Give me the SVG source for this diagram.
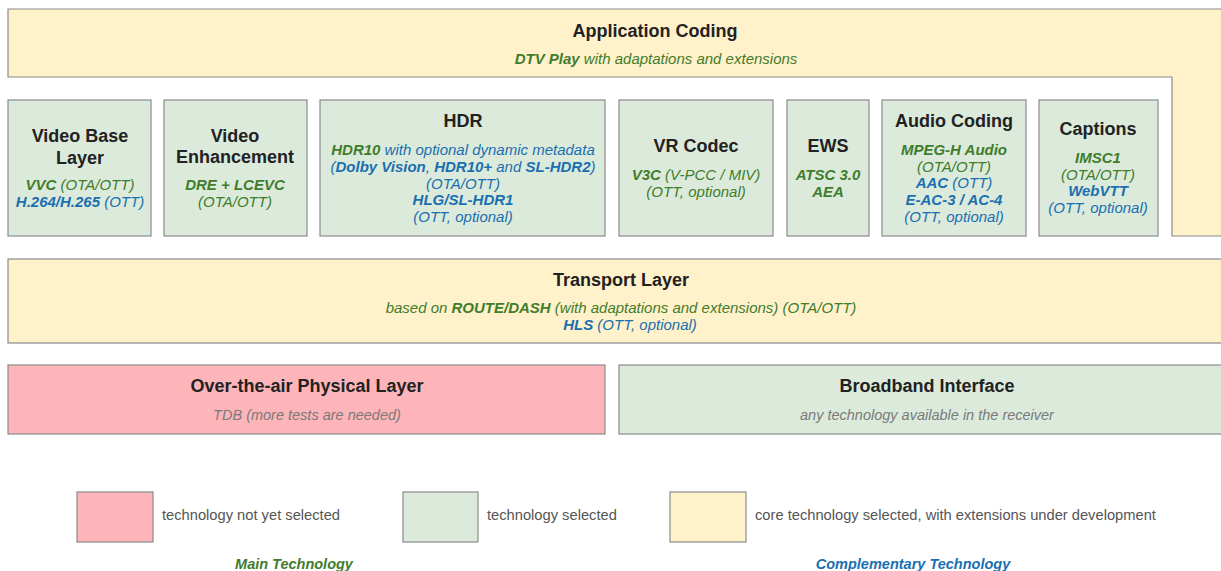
<svg xmlns="http://www.w3.org/2000/svg" width="1221" height="571" viewBox="0 0 1221 571">
<style>
text{font-family:"Liberation Sans",Arial,sans-serif}
.box{stroke:#8a8a8a;stroke-width:1.2}
.y{fill:#fff1ca}
.g{fill:#dceadb}
.r{fill:#fdb5b9}
.t{font-size:18px;font-weight:bold;fill:#222;text-anchor:middle}
.s{font-size:15px;font-style:italic;text-anchor:middle}
.gr{fill:#3f7d2c}
.bl{fill:#1a6fb0}
.b{font-weight:bold}
.gy{font-size:14.5px;font-style:italic;fill:#7a7a7a;text-anchor:middle}
.lg{font-size:14.7px;fill:#555}
.lt{font-size:14.5px;font-style:italic;font-weight:bold;text-anchor:middle}
</style>
<rect width="1221" height="571" fill="#fff"/>
<g id="application-coding">
<path class="box y" d="M8,9 H1222 V236 H1172 V77 H8 Z"/>
<text class="t" x="655" y="37">Application Coding</text>
<text class="s gr" x="656" y="64"><tspan class="b">DTV Play</tspan> with adaptations and extensions</text>
</g>
<g id="video-base-layer">
<rect class="box g" x="8" y="100" width="143" height="136"/>
<text class="t" x="80" y="142">Video Base</text>
<text class="t" x="80" y="164">Layer</text>
<text class="s gr" x="80" y="190"><tspan class="b">VVC</tspan> (OTA/OTT)</text>
<text class="s bl" x="80" y="207"><tspan class="b">H.264/H.265</tspan> (OTT)</text>
</g>
<g id="video-enhancement">
<rect class="box g" x="164" y="100" width="143" height="136"/>
<text class="t" x="235" y="142">Video</text>
<text class="t" x="235" y="163">Enhancement</text>
<text class="s gr" x="235" y="190"><tspan class="b">DRE + LCEVC</tspan></text>
<text class="s gr" x="235" y="207">(OTA/OTT)</text>
</g>
<g id="hdr">
<rect class="box g" x="320" y="100" width="285" height="136"/>
<text class="t" x="463" y="127">HDR</text>
<text class="s bl" x="463" y="155"><tspan class="b gr">HDR10</tspan> with optional dynamic metadata</text>
<text class="s bl" x="463" y="172">(<tspan class="b">Dolby Vision</tspan>, <tspan class="b">HDR10+</tspan> and <tspan class="b">SL-HDR2</tspan>)</text>
<text class="s bl" x="463" y="189">(OTA/OTT)</text>
<text class="s bl b" x="463" y="205">HLG/SL-HDR1</text>
<text class="s bl" x="463" y="222">(OTT, optional)</text>
</g>
<g id="vr-codec">
<rect class="box g" x="619" y="100" width="154" height="136"/>
<text class="t" x="696" y="152">VR Codec</text>
<text class="s gr" x="696" y="180"><tspan class="b">V3C</tspan> (V-PCC / MIV)</text>
<text class="s gr" x="696" y="197">(OTT, optional)</text>
</g>
<g id="ews">
<rect class="box g" x="787" y="100" width="82" height="136"/>
<text class="t" x="828" y="152">EWS</text>
<text class="s gr b" x="828" y="180">ATSC 3.0</text>
<text class="s gr b" x="828" y="197">AEA</text>
</g>
<g id="audio-coding">
<rect class="box g" x="882" y="100" width="144" height="136"/>
<text class="t" x="954" y="127">Audio Coding</text>
<text class="s gr b" x="954" y="155">MPEG-H Audio</text>
<text class="s gr" x="954" y="172">(OTA/OTT)</text>
<text class="s bl" x="954" y="188"><tspan class="b">AAC</tspan> (OTT)</text>
<text class="s bl b" x="954" y="205">E-AC-3 / AC-4</text>
<text class="s bl" x="954" y="222">(OTT, optional)</text>
</g>
<g id="captions">
<rect class="box g" x="1039" y="100" width="119" height="136"/>
<text class="t" x="1098" y="135">Captions</text>
<text class="s gr b" x="1098" y="163">IMSC1</text>
<text class="s gr" x="1098" y="180">(OTA/OTT)</text>
<text class="s bl b" x="1098" y="196">WebVTT</text>
<text class="s bl" x="1098" y="213">(OTT, optional)</text>
</g>
<g id="transport-layer">
<rect class="box y" x="8" y="259" width="1214" height="84"/>
<text class="t" x="621" y="286">Transport Layer</text>
<text class="s gr" x="621" y="313">based on <tspan class="b">ROUTE/DASH</tspan> (with adaptations and extensions) (OTA/OTT)</text>
<text class="s bl" x="630" y="330"><tspan class="b">HLS</tspan> (OTT, optional)</text>
</g>
<g id="ota-physical-layer">
<rect class="box r" x="8" y="365" width="597" height="69"/>
<text class="t" x="307" y="392">Over-the-air Physical Layer</text>
<text class="gy" x="307" y="420">TDB (more tests are needed)</text>
</g>
<g id="broadband-interface">
<rect class="box g" x="619" y="365" width="603" height="69"/>
<text class="t" x="927" y="392">Broadband Interface</text>
<text class="gy" x="927" y="420">any technology available in the receiver</text>
</g>
<g id="connectors"></g>
<g id="legend">
<rect class="box r" x="77" y="492" width="76" height="50"/>
<text class="lg" x="162" y="520">technology not yet selected</text>
<rect class="box g" x="403" y="492" width="75" height="50"/>
<text class="lg" x="487" y="520">technology selected</text>
<rect class="box y" x="670" y="492" width="76" height="50"/>
<text class="lg" x="755" y="520">core technology selected, with extensions under development</text>
<text class="lt gr" x="294" y="569">Main Technology</text>
<text class="lt bl" x="913" y="569">Complementary Technology</text>
</g>
</svg>
